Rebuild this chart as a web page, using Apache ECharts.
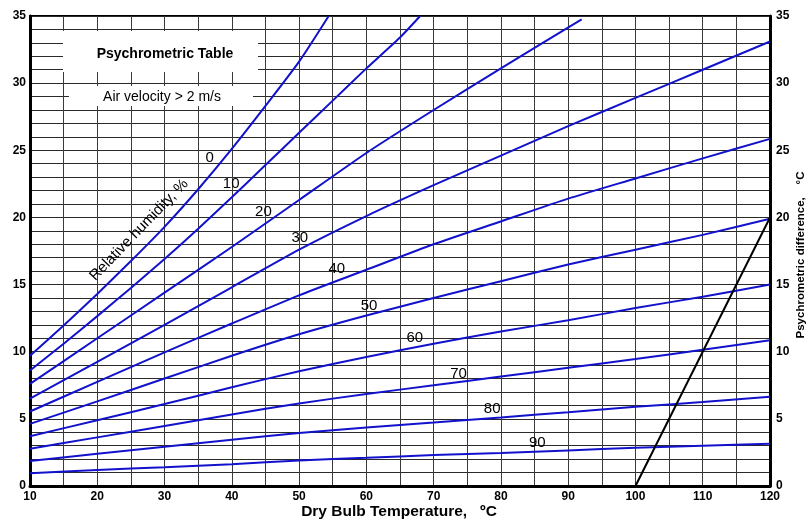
<!DOCTYPE html>
<html><head><meta charset="utf-8">
<script src="https://cdn.jsdelivr.net/npm/echarts@6/dist/echarts.min.js"></script>
<style>html,body{margin:0;padding:0;background:#fff}#c{width:812px;height:520px}</style>
</head><body><div id="c"></div>
<script>
// Relative humidity curves: [dry bulb °C, psychrometric difference °C]
const rh0  = [[10,9.7],[15,11.95],[20,14.3],[25,16.75],[30,19.3],[35,22.1],[40,25.1],[45,28.3],[50,31.6],[54.4,35.0]];
const rh10 = [[10,8.6],[15,10.6],[20,12.65],[25,14.75],[30,16.9],[35,19.15],[40,21.5],[45,23.9],[50,26.3],[55,28.7],[60,31.1],[65,33.4],[68,35.0]];
const rh20 = [[10,7.6],[20,11.0],[30,14.4],[40,17.8],[50,21.3],[60,24.8],[70,28.0],[80,31.1],[92,34.75]];
const rh30 = [[10,6.5],[20,9.25],[30,12.0],[40,14.8],[50,17.6],[60,20.1],[70,22.4],[80,24.6],[90,26.8],[100,28.9],[110,31.0],[120,33.1]];
const rh40 = [[10,5.55],[20,7.75],[30,9.95],[40,12.1],[50,14.2],[60,16.1],[70,18.0],[80,19.7],[90,21.4],[100,22.9],[110,24.4],[120,25.85]];
const rh50 = [[10,4.63],[20,6.3],[30,8.0],[40,9.7],[50,11.3],[60,12.7],[70,14.0],[80,15.25],[90,16.5],[100,17.6],[110,18.7],[120,19.9]];
const rh60 = [[10,3.7],[20,4.9],[30,6.1],[40,7.35],[50,8.55],[60,9.6],[70,10.6],[80,11.5],[90,12.35],[100,13.25],[110,14.1],[120,15.0]];
const rh70 = [[10,2.77],[20,3.62],[30,4.47],[40,5.33],[50,6.15],[60,6.85],[70,7.5],[80,8.15],[90,8.8],[100,9.45],[110,10.15],[120,10.85]];
const rh80 = [[10,1.86],[20,2.4],[30,2.92],[40,3.45],[50,3.95],[60,4.35],[70,4.72],[80,5.1],[90,5.5],[100,5.9],[110,6.25],[120,6.65]];
const rh90 = [[10,0.95],[20,1.2],[30,1.4],[40,1.62],[50,1.9],[60,2.1],[70,2.3],[80,2.45],[90,2.65],[100,2.85],[110,3.0],[120,3.15]];
const refLine = [[100,0],[120,20]];

const rhNames = ['0','10','20','30','40','50','60','70','80','90'];
const rhCurves = [rh0,rh10,rh20,rh30,rh40,rh50,rh60,rh70,rh80,rh90];
// curve label anchor points (data coords)
const labelPos = [[36.7,24.4],[39.9,22.5],[44.7,20.4],[50.1,18.5],[55.6,16.2],[60.4,13.45],[67.2,11.0],[73.7,8.37],[78.7,5.77],[85.4,3.23]];

const xTickStep = 10, yTickStep = 5;

const chart = echarts.init(document.getElementById('c'), null, {renderer:'canvas'});
const FONT = 'Liberation Sans, Arial, sans-serif';
const series = rhCurves.map((d,i)=>({
  type:'line', name:'RH '+rhNames[i], data:d, showSymbol:false, smooth:0.2,
  lineStyle:{color:'#1212cc', width:2}, z:5, silent:true
}));
series.push({type:'line', name:'ref', data:refLine, showSymbol:false,
  lineStyle:{color:'#000', width:2}, z:5});

const staticGraphics = [
    {type:'rect', shape:{x:63, y:31, width:195, height:41}, style:{fill:'#fff'}, z:3},
    {type:'rect', shape:{x:69, y:86, width:184, height:20}, style:{fill:'#fff'}, z:3},
    {type:'text', x:165, y:54, z:4, style:{text:'Psychrometric Table', textAlign:'center', textVerticalAlign:'middle',
      fontFamily:FONT, fontWeight:'bold', fontSize:14, fill:'#000'}},
    {type:'text', x:162, y:97, z:4, style:{text:'Air velocity > 2 m/s', textAlign:'center', textVerticalAlign:'middle',
      fontFamily:FONT, fontSize:14, fill:'#000'}},
    {type:'text', x:139, y:230, rotation:46*Math.PI/180, z:4, style:{text:'Relative humidity, %', textAlign:'center', textVerticalAlign:'middle',
      fontFamily:FONT, fontSize:15, fill:'#000'}},
    {type:'text', x:399, y:512, z:4, style:{text:'Dry Bulb Temperature,   ºC', textAlign:'center', textVerticalAlign:'middle',
      fontFamily:FONT, fontWeight:'bold', fontSize:15.5, fill:'#000'}},
    {type:'text', x:801, y:255, rotation:Math.PI/2, z:4, style:{text:'Psychrometric difference,    °C', textAlign:'center', textVerticalAlign:'middle',
      fontFamily:FONT, fontWeight:'bold', fontSize:11.5, fill:'#000'}}
];

chart.setOption({
  animation:false,
  backgroundColor:'#fff',
  grid:{left:30, right:42, top:16, bottom:34, show:true, borderColor:'#000', borderWidth:2},
  xAxis:{type:'value', min:10, max:120, interval:5,
    axisLine:{show:true, lineStyle:{color:'#000', width:3}},
    axisTick:{show:false},
    axisLabel:{margin:5, color:'#000', fontFamily:FONT, fontWeight:'bold', fontSize:12,
      formatter:v=> (v % xTickStep === 0 ? String(v) : '')},
    splitLine:{show:true, lineStyle:{color:'#3a3a3a', width:1}}},
  yAxis:[
    {type:'value', min:0, max:35, interval:1, position:'left',
      axisLine:{show:true, lineStyle:{color:'#000', width:3}},
      axisTick:{show:false},
      axisLabel:{margin:4, color:'#000', fontFamily:FONT, fontWeight:'bold', fontSize:12,
        formatter:v=> (v % yTickStep === 0 ? String(v) : '')},
      splitLine:{show:true, lineStyle:{color:'#2a2a2a', width:1}}},
    {type:'value', min:0, max:35, interval:1, position:'right',
      axisLine:{show:true, lineStyle:{color:'#000', width:3}},
      axisTick:{show:false},
      axisLabel:{margin:6, color:'#000', fontFamily:FONT, fontWeight:'bold', fontSize:12,
        formatter:v=> (v % yTickStep === 0 ? String(v) : '')},
      splitLine:{show:false}}
  ],
  series: series,
  graphic: staticGraphics
});

// curve labels placed through the chart's own coordinate conversion
const labelGraphics = labelPos.map((p,i)=>{
  const px = chart.convertToPixel({gridIndex:0}, p);
  return {type:'text', x:px[0], y:px[1], z:6,
    style:{text:rhNames[i], textAlign:'center', textVerticalAlign:'middle',
      fontFamily:FONT, fontSize:15, fill:'#000'}};
});
chart.setOption({graphic: staticGraphics.concat(labelGraphics)});
</script></body></html>
